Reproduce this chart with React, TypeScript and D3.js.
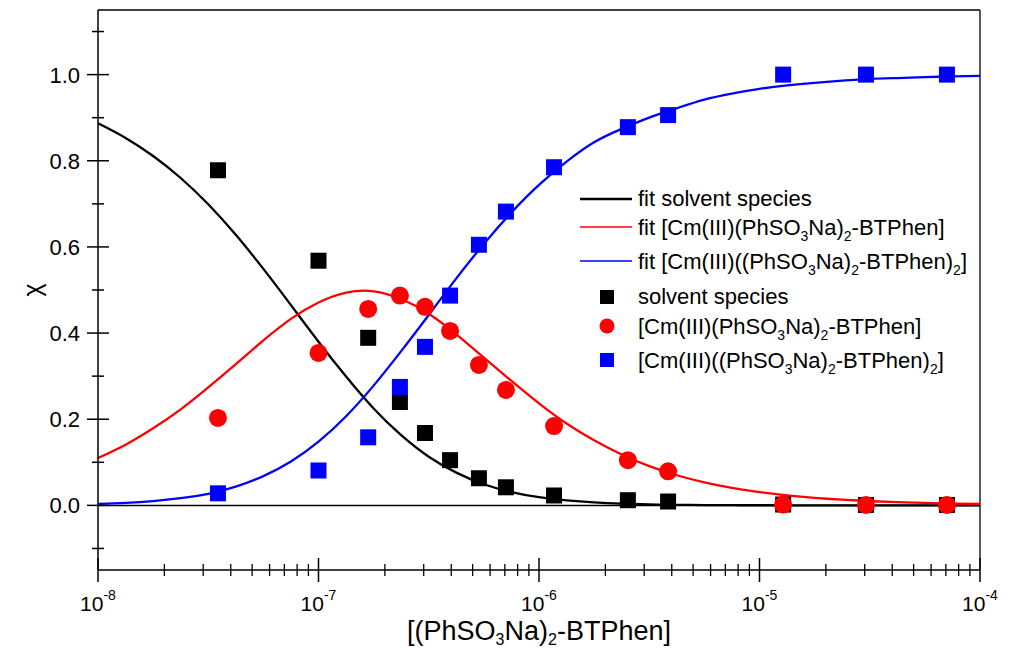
import React from "react";
import * as d3 from "d3";

// measured concentrations [(PhSO3Na)2-BTPhen] in M
const conc = [3.5e-8, 1.0e-7, 1.68e-7, 2.34e-7, 3.04e-7, 3.95e-7, 5.34e-7, 7.08e-7, 1.17e-6, 2.53e-6, 3.85e-6, 1.28e-5, 3.04e-5, 7.08e-5];
const solvent = [0.778, 0.568, 0.389, 0.24, 0.168, 0.105, 0.063, 0.042, 0.023, 0.012, 0.009, 0.002, 0.001, 0.001];
const complex1 = [0.203, 0.354, 0.456, 0.487, 0.461, 0.405, 0.326, 0.268, 0.184, 0.105, 0.079, 0.002, 0.001, 0.001];
const complex2 = [0.028, 0.081, 0.158, 0.275, 0.368, 0.487, 0.605, 0.682, 0.785, 0.878, 0.906, 1.0, 1.0, 1.0];

// fit curves read every eighth of a decade, 1e-8 .. 1e-4
const fitConc = [
  1e-8, 1.334e-8, 1.778e-8, 2.371e-8, 3.162e-8, 4.217e-8, 5.623e-8, 7.499e-8,
  1e-7, 1.334e-7, 1.778e-7, 2.371e-7, 3.162e-7, 4.217e-7, 5.623e-7, 7.499e-7,
  1e-6, 1.334e-6, 1.778e-6, 2.371e-6, 3.162e-6, 4.217e-6, 5.623e-6, 7.499e-6,
  1e-5, 1.334e-5, 1.778e-5, 2.371e-5, 3.162e-5, 4.217e-5, 5.623e-5, 7.499e-5,
  1e-4,
];
const fitSolvent = [
  0.887, 0.853, 0.811, 0.76, 0.699, 0.628, 0.549, 0.465,
  0.38, 0.299, 0.225, 0.163, 0.113, 0.076, 0.049, 0.031,
  0.019, 0.0115, 0.0068, 0.004, 0.0023, 0.0013, 0.0008, 0.0004,
  0.0003, 0.0002, 0.0001, 0, 0, 0, 0, 0,
  0,
];
const fitComplex1 = [
  0.11, 0.141, 0.179, 0.223, 0.274, 0.328, 0.383, 0.433,
  0.471, 0.494, 0.497, 0.479, 0.445, 0.397, 0.343, 0.289,
  0.237, 0.19, 0.151, 0.118, 0.091, 0.07, 0.0535, 0.0407,
  0.0308, 0.0233, 0.0176, 0.0132, 0.0099, 0.0075, 0.0056, 0.0042,
  0.0032,
];
const fitComplex2 = [
  0.0035, 0.0059, 0.01, 0.0167, 0.027, 0.0436, 0.068, 0.102,
  0.148, 0.207, 0.278, 0.358, 0.442, 0.527, 0.607, 0.68,
  0.744, 0.798, 0.843, 0.874, 0.9, 0.922, 0.942, 0.956,
  0.967, 0.975, 0.981, 0.986, 0.99, 0.992, 0.994, 0.996,
  0.997,
];

const yMajor = [0, 0.2, 0.4, 0.6, 0.8, 1.0];
const yMinor = [-0.1, 0.1, 0.3, 0.5, 0.7, 0.9, 1.1];
const xDecades = [-8, -7, -6, -5, -4];

const FONT = "'Liberation Sans', Arial, sans-serif";

export default function App() {
  const width = 1009;
  const height = 649;
  const margin = { top: 10, right: 29, bottom: 79, left: 98 };

  const x = d3
    .scaleLog()
    .domain([1e-8, 1e-4])
    .range([margin.left, width - margin.right]);

  const y = d3
    .scaleLinear()
    .domain([-0.15, 1.15])
    .range([height - margin.bottom, margin.top]);

  const x0 = margin.left;
  const x1 = width - margin.right;
  const yB = height - margin.bottom;
  const yT = margin.top;

  const xMinor: number[] = [];
  for (let e = -8; e < -4; e++) {
    for (let k = 2; k <= 9; k++) xMinor.push(k * Math.pow(10, e));
  }

  const line = d3
    .line<number>()
    .x((d, i) => x(fitConc[i]))
    .y((d) => y(d))
    .curve(d3.curveNatural);

  const fits = [
    { values: fitSolvent, color: "#000000" },
    { values: fitComplex1, color: "#ff0000" },
    { values: fitComplex2, color: "#0000ff" },
  ];

  const sq = 16;
  const r = 9;

  const sub = (t: string, size = 14, shift = -6) => (
    <tspan baselineShift={shift} fontSize={size}>
      {t}
    </tspan>
  );

  const legendX = 580;
  const legendText = 638;

  return (
    <svg
      width={width}
      height={height}
      style={{ position: "absolute", left: 0, top: 0, background: "#fff" }}
      fontFamily={FONT}
    >
      <rect x={0} y={0} width={width} height={height} fill="#fff" />

      {/* frame */}
      <line x1={x0} x2={x1} y1={yT} y2={yT} stroke="#000" strokeWidth={1.3} />
      <line x1={x1} x2={x1} y1={yT} y2={yB} stroke="#000" strokeWidth={1.3} />
      {/* zero line */}
      <line x1={x0} x2={x1} y1={y(0)} y2={y(0)} stroke="#000" strokeWidth={1.5} />

      {/* fit lines */}
      {fits.map((f, i) => (
        <path key={i} d={line(f.values) || ""} fill="none" stroke={f.color} strokeWidth={2.3} />
      ))}

      {/* data points */}
      {conc.map((c, i) => (
        <rect key={"s" + i} x={x(c) - sq / 2} y={y(solvent[i]) - sq / 2} width={sq} height={sq} fill="#000" />
      ))}
      {conc.map((c, i) => (
        <circle key={"c" + i} cx={x(c)} cy={y(complex1[i])} r={r} fill="#ff0000" />
      ))}
      {conc.map((c, i) => (
        <rect key={"b" + i} x={x(c) - sq / 2} y={y(complex2[i]) - sq / 2} width={sq} height={sq} fill="#0000ff" />
      ))}

      {/* y axis */}
      <line x1={x0} x2={x0} y1={yT} y2={yB} stroke="#000" strokeWidth={1.5} />
      {yMajor.map((v) => (
        <g key={"ym" + v}>
          <line x1={x0 - 11} x2={x0 + 11} y1={y(v)} y2={y(v)} stroke="#000" strokeWidth={1.5} />
          <text x={x0 - 18} y={y(v) + 8} textAnchor="end" fontSize="22" fill="#000">
            {v.toFixed(1)}
          </text>
        </g>
      ))}
      {yMinor.map((v) => (
        <line key={"yn" + v} x1={x0 - 6} x2={x0 + 6} y1={y(v)} y2={y(v)} stroke="#000" strokeWidth={1.5} />
      ))}
      <text
        transform={`translate(41,290) rotate(-90)`}
        textAnchor="middle"
        fontSize="25"
        fill="#000"
      >
        χ
      </text>

      {/* x axis */}
      <line x1={x0} x2={x1} y1={yB} y2={yB} stroke="#000" strokeWidth={1.5} />
      {xMinor.map((v, i) => (
        <line key={"xn" + i} x1={x(v)} x2={x(v)} y1={yB - 6} y2={yB + 6} stroke="#000" strokeWidth={1.3} />
      ))}
      {xDecades.map((e) => (
        <g key={"xm" + e}>
          <line x1={x(Math.pow(10, e))} x2={x(Math.pow(10, e))} y1={yB - 12} y2={yB + 12} stroke="#000" strokeWidth={1.5} />
          <text x={x(Math.pow(10, e))} y={yB + 41} textAnchor="middle" fontSize="21" fill="#000">
            10
            <tspan baselineShift={11} fontSize="14">
              {e}
            </tspan>
          </text>
        </g>
      ))}
      <text x={(x0 + x1) / 2} y={640} textAnchor="middle" fontSize="27" fill="#000">
        [(PhSO{sub("3", 16, -5)}Na){sub("2", 16, -5)}-BTPhen]
      </text>

      {/* legend */}
      <g fontSize="22" fill="#000">
        <line x1={legendX} x2={legendX + 52} y1={199} y2={199} stroke="#000" strokeWidth={2.3} />
        <text x={legendText} y={206}>fit solvent species</text>

        <line x1={legendX} x2={legendX + 52} y1={227} y2={227} stroke="#ff0000" strokeWidth={1.5} />
        <text x={legendText} y={235}>
          fit [Cm(III)(PhSO{sub("3")}Na){sub("2")}-BTPhen]
        </text>

        <line x1={legendX} x2={legendX + 52} y1={261} y2={261} stroke="#0000ff" strokeWidth={1.5} />
        <text x={legendText} y={269}>
          fit [Cm(III)((PhSO{sub("3")}Na){sub("2")}-BTPhen){sub("2")}]
        </text>

        <rect x={607 - 7} y={297 - 7} width={14} height={14} fill="#000" />
        <text x={legendText} y={304}>solvent species</text>

        <circle cx={607} cy={326} r={7.5} fill="#ff0000" />
        <text x={legendText} y={334}>
          [Cm(III)(PhSO{sub("3")}Na){sub("2")}-BTPhen]
        </text>

        <rect x={607 - 7} y={360 - 7} width={14} height={14} fill="#0000ff" />
        <text x={legendText} y={368}>
          [Cm(III)((PhSO{sub("3")}Na){sub("2")}-BTPhen){sub("2")}]
        </text>
      </g>
    </svg>
  );
}
